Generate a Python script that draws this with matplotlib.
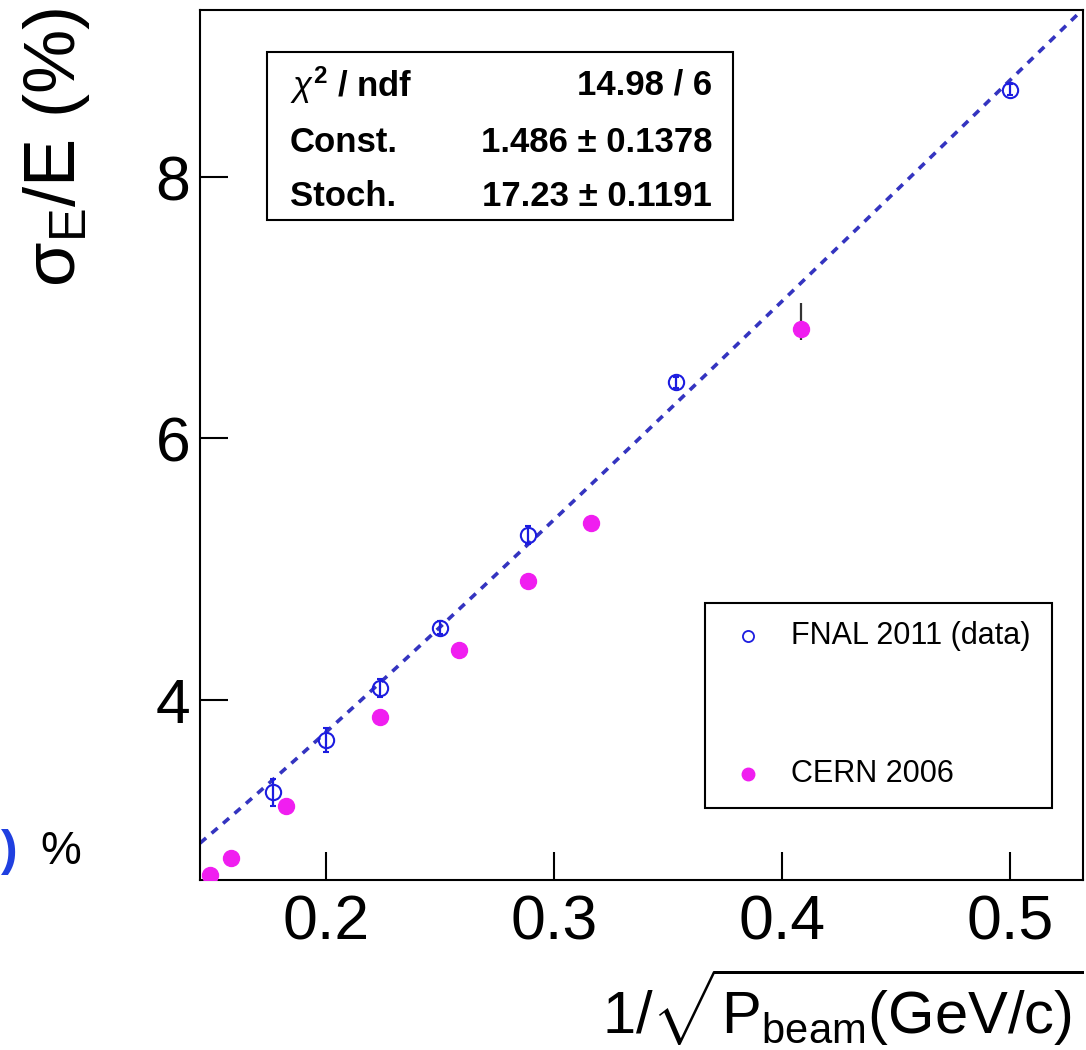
import numpy as np
import matplotlib
matplotlib.use('Agg')
import matplotlib.pyplot as plt
from matplotlib.patches import Rectangle

# FNAL 2011 beam test (open circles)
fnal_x = [0.1768, 0.2000, 0.2236, 0.2500, 0.2887, 0.3536, 0.5000]
fnal_y = [3.29, 3.69, 4.09, 4.55, 5.26, 6.43, 8.67]
fnal_err = [0.10, 0.09, 0.07, 0.05, 0.07, 0.04, 0.04]

# CERN 2006 (filled)
cern_x = [0.1491, 0.1581, 0.1826, 0.2236, 0.2582, 0.2887, 0.3162, 0.4082]
cern_y = [2.66, 2.79, 3.19, 3.87, 4.38, 4.91, 5.35, 6.84]
cern_err_lo = [0, 0, 0, 0, 0, 0, 0, 0.09]
cern_err_hi = [0, 0, 0, 0, 0, 0, 0, 0.20]

# fit: sqrt(const^2 + (stoch*x)^2)
fit_const = 1.486
fit_stoch = 17.23
stat_labels = [r'$\chi^{\mathbf{2}}$ / ndf', 'Const.', 'Stoch.']
stat_values = ['14.98 / 6', u'1.486 \u00b1 0.1378', u'17.23 \u00b1 0.1191']

xlim = (0.1447, 0.532)
ylim = (2.62, 9.28)

blue = '#1c1ce0'
fitblue = '#3434c0'
magenta = '#f01ef0'

params = {'font.family': ['Liberation Sans', 'DejaVu Sans'],
          'mathtext.fontset': 'custom',
          'mathtext.rm': 'Liberation Sans',
          'mathtext.it': 'Liberation Sans:italic',
          'mathtext.bf': 'Liberation Sans:bold',
          'axes.linewidth': 1.5}
plt.rcParams.update(params)

fig = plt.figure(figsize=(10.86, 10.5), dpi=100)
ax = fig.add_axes([0.1842, 0.1619, 0.8130, 0.8286])

xf = np.linspace(xlim[0], xlim[1], 200)
ax.plot(xf, np.sqrt(fit_const**2 + (fit_stoch*xf)**2), color=fitblue,
        lw=2.6, dashes=(2.2, 2.0))

ax.errorbar(cern_x, cern_y, yerr=[cern_err_lo, cern_err_hi], fmt='o',
            color=magenta, ecolor='#333333', elinewidth=1.6, ms=11.5,
            mec=magenta, capsize=0, zorder=3)
ax.errorbar(fnal_x, fnal_y, yerr=fnal_err, fmt='o', color=blue, mfc='none',
            mec=blue, mew=1.5, ms=11, elinewidth=1.6, capsize=2, capthick=1.2,
            zorder=4)

ax.set_xlim(*xlim)
ax.set_ylim(*ylim)
ax.set_xticks([0.2, 0.3, 0.4, 0.5])
ax.set_xticklabels(['0.2', '0.3', '0.4', '0.5'])
ax.set_yticks([4, 6, 8])
ax.tick_params(direction='in', length=20, width=1.5, labelsize=45)
ax.tick_params(axis='x', pad=10)
ax.tick_params(axis='y', pad=7)

# stats box
ax.add_patch(Rectangle((0.0759, 0.7586), 0.5277, 0.1931, transform=ax.transAxes,
                       fill=False, lw=1.5, ec='black', zorder=5))
for lab, val, yy in zip(stat_labels, stat_values, [0.914, 0.848, 0.786]):
    ax.text(0.102, yy, lab, transform=ax.transAxes, fontsize=25,
            fontweight='bold', va='center', ha='left')
    ax.text(0.580, yy, val, transform=ax.transAxes, fontsize=25,
            fontweight='bold', va='center', ha='right')

# legend box
ax.add_patch(Rectangle((0.572, 0.0828), 0.393, 0.2356, transform=ax.transAxes,
                       fill=False, lw=1.5, ec='black', zorder=5))
ax.plot([0.621], [0.2805], 'o', transform=ax.transAxes, mfc='none', mec=blue,
        mew=1.3, ms=8)
ax.plot([0.621], [0.1218], 'o', transform=ax.transAxes, color=magenta, ms=9)
ax.text(0.669, 0.2805, 'FNAL 2011 (data)', transform=ax.transAxes,
        fontsize=22, va='center', ha='left')
ax.text(0.669, 0.1218, 'CERN 2006', transform=ax.transAxes,
        fontsize=22, va='center', ha='left')

fig.text(57/1086, 1 - 8/1050, r'$\mathrm{\sigma_{E}}$/E (%)', rotation=90,
         ha='center', va='top', fontsize=52)
fig.text(1083/1086, 2/1050, r'1/$\sqrt{\mathrm{P}_{\mathrm{beam}}\mathrm{(GeV/c)}}$',
         ha='right', va='bottom', fontsize=43)

# bits of the neighbouring panel
fig.text(1/1086, 1 - 852/1050, ')', color='#2040e0', fontsize=36,
         fontweight='bold', ha='left', va='center')
fig.text(40/1086, 1 - 852/1050, '%', fontsize=33, ha='left', va='center')

fig.savefig('out.png', dpi=100)
